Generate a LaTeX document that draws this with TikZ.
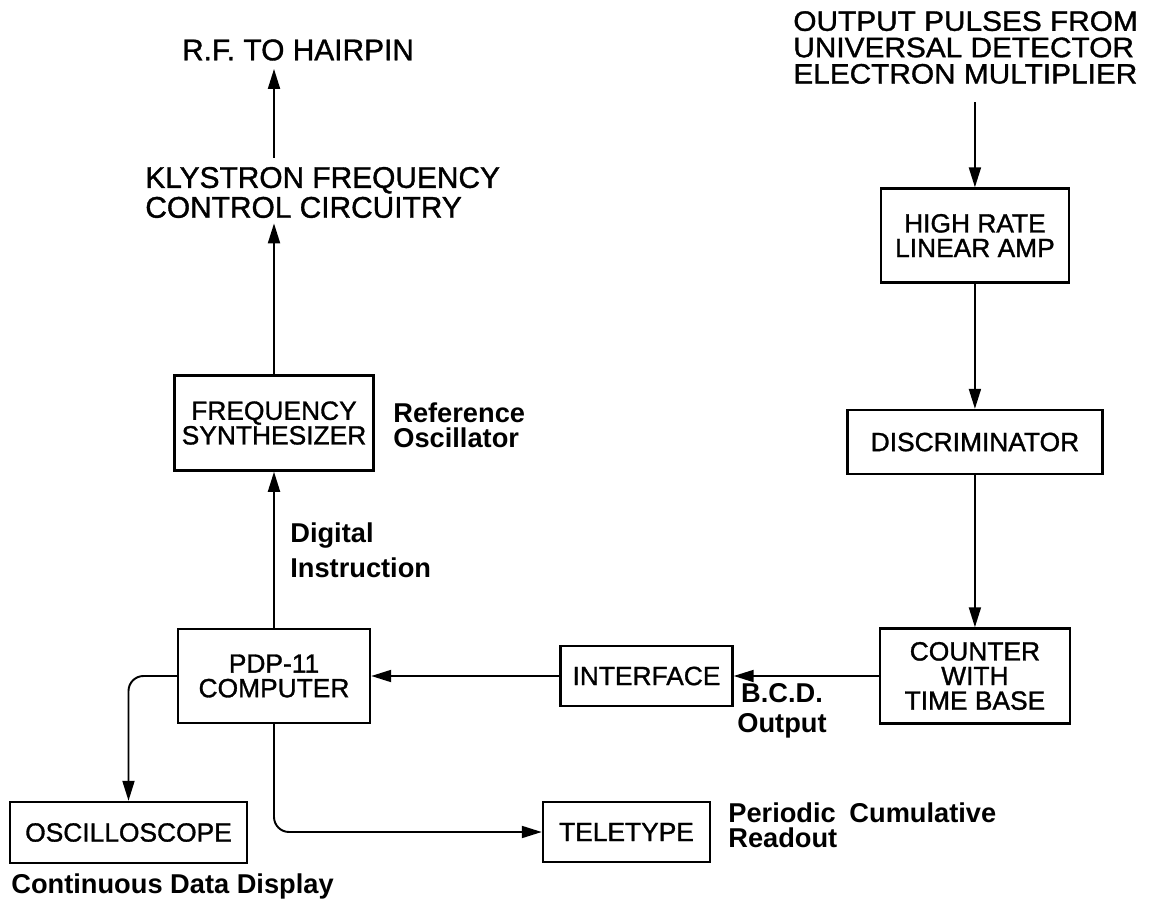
\documentclass[tikz,border=0pt]{standalone}
\usepackage{fontspec}
\setmainfont{Liberation Sans}
\newfontfamily\letterfont[FakeBold=1.2]{Liberation Sans}
\newfontfamily\srcfont[FakeBold=1.2, FakeStretch=1.06]{Liberation Sans}
\usetikzlibrary{positioning,arrows.meta}

\begin{document}
\begin{tikzpicture}[
    blk/.style={rectangle, draw, line width=1.4pt, align=center, inner sep=2pt, font=\letterfont\fontsize{15}{14}\selectfont},
    big/.style={align=left, inner sep=0pt, font=\letterfont\fontsize{17}{17}\selectfont},
    note/.style={inner sep=0pt, align=left, font=\fontsize{15.5}{14}\selectfont\bfseries},
    sig/.style={-{Triangle[length=0.4cm, width=0.24cm]}, line width=1.1pt}
  ]
    \useasboundingbox (0,0) rectangle (22.98,-18.14);

    \node[blk, minimum width=3.84cm, minimum height=1.88cm] (pdp) at (5.48,-13.52) {PDP-11\\COMPUTER};
    \node[blk, minimum width=3.98cm, minimum height=1.9cm, above=3.12cm of pdp] (synth) {FREQUENCY\\SYNTHESIZER};
    \node[blk, minimum width=3.44cm, minimum height=1.2cm, right=3.76cm of pdp] (iface) {INTERFACE};
    \node[blk, minimum width=3.8cm, minimum height=1.9cm, right=2.9cm of iface] (cnt) {COUNTER\\WITH\\TIME BASE};
    \node[blk, minimum width=5.1cm, minimum height=1.28cm, above=3.04cm of cnt] (disc) {DISCRIMINATOR};
    \node[blk, minimum width=3.76cm, minimum height=1.88cm, above=2.5cm of disc] (amp) {HIGH RATE\\LINEAR AMP};
    \node[blk, minimum width=4.74cm, minimum height=1.22cm] (osc) at (2.57,-16.65) {OSCILLOSCOPE};
    \node[blk, minimum width=3.34cm, minimum height=1.2cm] (tty) at (12.53,-16.64) {TELETYPE};

    \node[big, anchor=west] (kly) at (2.9,-3.85) {KLYSTRON FREQUENCY\\CONTROL CIRCUITRY};
    \node[big] (rf) at (5.96,-1.0) {R.F. TO HAIRPIN};
    \node[big, anchor=west, font=\srcfont\fontsize{16}{15}\selectfont] (src) at (15.86,-0.95) {OUTPUT PULSES FROM\\UNIVERSAL DETECTOR\\ELECTRON MULTIPLIER};

    \node[note, anchor=west] (refosc) at (7.86,-8.5) {Reference\\Oscillator};
    \node[note, anchor=west, font=\fontsize{15.5}{20}\selectfont\bfseries] (digi) at (5.8,-11.0) {Digital\\Instruction};
    \node[note, align=center, font=\fontsize{15.5}{17}\selectfont\bfseries] (bcd) at (15.64,-14.22) {B.C.D.\\Output};
    \node[note, anchor=west] (readout) at (14.56,-16.5) {Periodic\enspace Cumulative\\Readout};
    \node[note, anchor=west] (display) at (0.22,-17.72) {Continuous Data Display};

    \draw[sig, shorten <=0.36cm] (src.south -| amp.north) -- (amp);
    \draw[sig] (amp) -- (disc);
    \draw[sig] (disc) -- (cnt);
    \draw[sig] (cnt) -- (iface);
    \draw[sig] (iface) -- (pdp);
    \draw[sig] (pdp) -- (synth);
    \draw[sig, shorten >=0.1cm] (synth.north) -- (synth.north |- kly.south);
    \draw[sig, shorten <=0.18cm, shorten >=0.16cm] (synth.north |- kly.north) -- (synth.north |- rf.south);
    \draw[sig, rounded corners=0.3cm] (pdp.west) -| (osc);
    \draw[sig, rounded corners=0.3cm] (pdp.south) |- (tty);
  \end{tikzpicture}
\end{document}
